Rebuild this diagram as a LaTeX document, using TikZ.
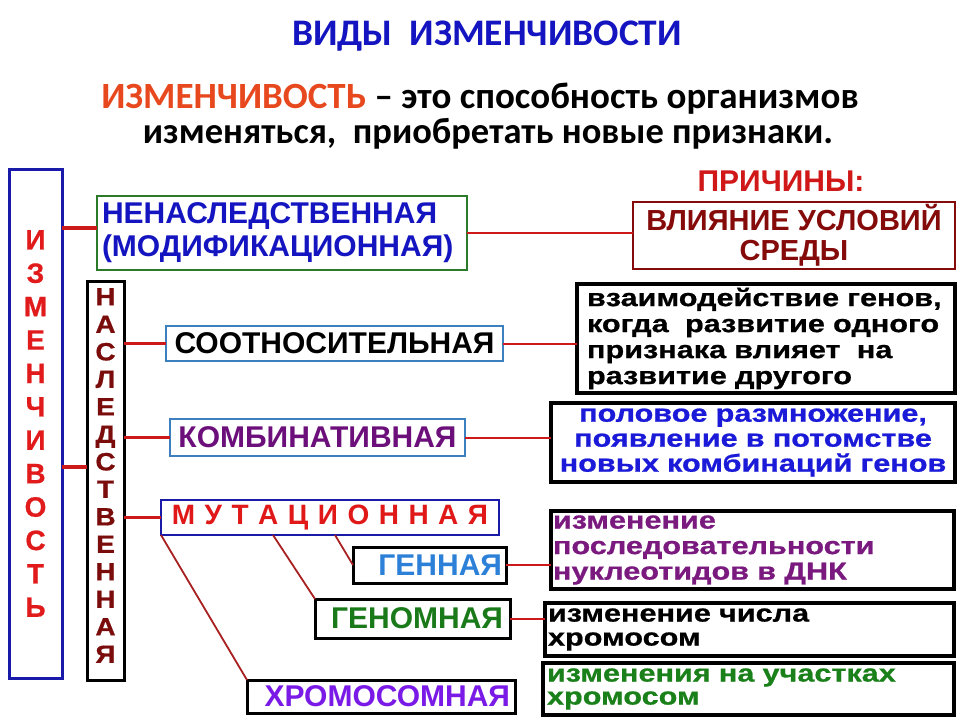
\documentclass[tikz,border=0pt]{standalone}
\usepackage{fontspec}
\setmainfont{Liberation Sans}
\newfontfamily\calib{Carlito}
\newfontfamily\widef{Liberation Sans}[FakeStretch=1.25, FakeBold=0.8]
\newfontfamily\heavyf{Liberation Sans}[FakeBold=0.7]
\newfontfamily\naslf{Liberation Sans}[FakeStretch=1.12, FakeBold=0.7]
\usetikzlibrary{calc}
\definecolor{izmblue}{HTML}{1A1AAA}
\definecolor{izmred}{HTML}{E11B1B}
\definecolor{nasltext}{HTML}{7B0C0C}
\definecolor{conred}{HTML}{CC1A1A}
\definecolor{diagred}{HTML}{A82020}
\definecolor{greenbox}{HTML}{2A7A2A}
\definecolor{nenasltext}{HTML}{1414C0}
\definecolor{vliy}{HTML}{850A0A}
\definecolor{prich}{HTML}{D01818}
\definecolor{steel}{HTML}{3C80C0}
\definecolor{kombtext}{HTML}{6C0F7A}
\definecolor{mutbox}{HTML}{1A1AA8}
\definecolor{mutred}{HTML}{E01818}
\definecolor{gennblue}{HTML}{2C80D8}
\definecolor{genomgreen}{HTML}{1A7A1A}
\definecolor{hromviolet}{HTML}{7A1AE6}
\definecolor{polovblue}{HTML}{1A1AD8}
\definecolor{poslpurple}{HTML}{7A1A7E}
\definecolor{uchgreen}{HTML}{1A801A}
\definecolor{titleblue}{HTML}{1414C0}
\definecolor{orangered}{HTML}{E8481E}
\newcommand\gp{\hspace{9.5pt}}
\tikzset{
  every node/.style={inner sep=0pt, outer sep=0pt},
  bx/.style={draw, rectangle, inner sep=0pt, align=center},
  caps/.style={font=\bfseries\fontsize{30}{33}\selectfont},
  low/.style={font=\widef\bfseries\fontsize{24.5}{25.5}\selectfont},
  thickcon/.style={draw=conred, line width=3.5pt},
  thincon/.style={draw=conred, line width=2pt},
  diag/.style={draw=diagred, line width=1.8pt},
  hdr/.style={font=\calib\bfseries\fontsize{37}{40}\selectfont, anchor=base},
}
\begin{document}
\begin{tikzpicture}[x=1pt, y=-1pt]
\useasboundingbox[fill=white] (0,0) rectangle (960,720);

% header
\node[hdr, text=titleblue, font=\calib\bfseries\fontsize{37.5}{40}\selectfont] (title) at (487,45) {ВИДЫ\ \ ИЗМЕНЧИВОСТИ};
\node[hdr] (def1) at (480,108) {\textcolor{orangered}{ИЗМЕНЧИВОСТЬ} – это способность организмов};
\node[hdr, font=\calib\bfseries\fontsize{36.5}{40}\selectfont] (def2) at (488,143) {изменяться,\ \ приобретать новые признаки.};

% left column
\node[bx, draw=izmblue, line width=3pt, minimum width=53pt, minimum height=509pt,
      text=izmred, font=\heavyf\bfseries\fontsize{28}{33.4}\selectfont] (izm) at (35.5,423.5)
      {И\\З\\М\\Е\\Н\\Ч\\И\\В\\О\\С\\Т\\Ь};
\node[bx, draw=black, line width=3pt, minimum width=37pt, minimum height=399pt] (nasl) at (105.5,480.5) {};
\node[align=center, text=nasltext, font=\naslf\bfseries\fontsize{25}{27.5}\selectfont] (naslt) at (105.5,475.5)
      {Н\\А\\С\\Л\\Е\\Д\\С\\Т\\В\\Е\\Н\\Н\\А\\Я};

% non-hereditary
\node[bx, draw=greenbox, line width=2pt, minimum width=370pt, minimum height=74pt,
      text width=360pt, align=left, text=nenasltext, caps] (nenasl) at (282,233)
      {НЕНАСЛЕДСТВЕННАЯ\\(МОДИФИКАЦИОННАЯ)};
\node[caps, text=prich] (prichiny) at (781,181) {ПРИЧИНЫ:};
\node[bx, draw=vliy, line width=2.5pt, minimum width=322pt, minimum height=67pt,
      text=vliy, font=\bfseries\fontsize{29}{30}\selectfont] (vliyanie) at (794,235.5)
      {ВЛИЯНИЕ УСЛОВИЙ\\СРЕДЫ};

% hereditary types
\node[bx, draw=steel, line width=2.5pt, minimum width=337pt, minimum height=35pt,
      text=black, caps] (soot) at (334.5,343.5) {СООТНОСИТЕЛЬНАЯ};
\node[bx, draw=steel, line width=2.5pt, minimum width=295pt, minimum height=37pt,
      text=kombtext, caps] (komb) at (317.5,437.5) {КОМБИНАТИВНАЯ};
\node[bx, draw=mutbox, line width=2.5pt, minimum width=338pt, minimum height=35pt,
      text=mutred, font=\bfseries\fontsize{28}{30}\selectfont] (mut) at (330,517.5)
      {М\gp У\gp Т\gp А\gp Ц\gp И\gp О\gp Н\gp Н\gp А\gp Я};

% mutation subtypes
\node[bx, draw=black, line width=3pt, minimum width=153pt, minimum height=36pt,
      text width=145pt, align=right, text=gennblue, caps] (genn) at (429.5,565) {ГЕННАЯ};
\node[bx, draw=black, line width=3pt, minimum width=195pt, minimum height=39pt,
      text width=181pt, align=right, text=genomgreen, caps] (genom) at (412.5,618.5) {ГЕНОМНАЯ};
\node[bx, draw=black, line width=3pt, minimum width=268pt, minimum height=33pt,
      text width=258pt, align=right, text=hromviolet, caps] (hrom) at (381,696.5) {ХРОМОСОМНАЯ};

% right explanation boxes
\node[bx, draw=black, line width=3.5pt, minimum width=378pt, minimum height=109pt,
      text width=358pt, align=left, text=black, low, font=\widef\bfseries\fontsize{24.5}{26}\selectfont] (vzaim) at (766,338.5)
      {взаимодействие генов,\\когда\ \ развитие одного\\признака влияет\ \ на\\развитие другого};
\node[bx, draw=black, line width=3.5pt, minimum width=404pt, minimum height=79pt,
      text width=400pt, align=center, text=polovblue, low, font=\widef\bfseries\fontsize{24.5}{25}\selectfont] (polov) at (753,442.5)
      {половое размножение,\\появление в потомстве\\новых комбинаций генов};
\node[bx, draw=black, line width=3.5pt, minimum width=403pt, minimum height=78pt,
      text width=399pt, align=left, text=poslpurple, low] (posl) at (752.5,550)
      {изменение\\последовательности\\нуклеотидов в ДНК};
\node[bx, draw=black, line width=3.5pt, minimum width=409pt, minimum height=53pt,
      text width=403pt, align=left, text=black, low, font=\widef\bfseries\fontsize{24.5}{24}\selectfont] (chisla) at (749.5,629.5)
      {изменение числа\\хромосом};
\node[bx, draw=black, line width=3.5pt, minimum width=411pt, minimum height=52pt,
      text width=403pt, align=left, text=uchgreen, low, font=\widef\bfseries\fontsize{24.5}{23}\selectfont] (uchast) at (748.5,689)
      {изменения на участках\\хромосом};

% connectors
\coordinate (jn) at (0,467);
\draw[thickcon] (izm.east |- jn) -- (nasl.west |- jn);
\draw[thickcon] (izm.east |- nenasl.west) ++(0,-5) -- ([yshift=5pt]nenasl.west);
\draw[thickcon] (nasl.east |- soot.west) -- (soot.west);
\draw[thickcon] (nasl.east |- komb.west) -- (komb.west);
\draw[thickcon] (nasl.east |- mut.west) -- (mut.west);
\draw[thincon] (nenasl.east) -- (vliyanie.west |- nenasl.east);
\draw[thincon] (soot.east) -- (vzaim.west |- soot.east);
\draw[thincon] (komb.east) -- (polov.west |- komb.east);
\draw[thincon] (genn.east) -- (posl.west |- genn.east);
\draw[thincon] (genom.east) -- (chisla.west |- genom.east);
\draw[diag] ($(mut.south)+(5,0)$) -- (genn.west);
\draw[diag] ($(mut.south west)+(112,0)$) -- (genom.north west);
\draw[diag] (mut.south west) -- (hrom.north west);
\end{tikzpicture}
\end{document}
